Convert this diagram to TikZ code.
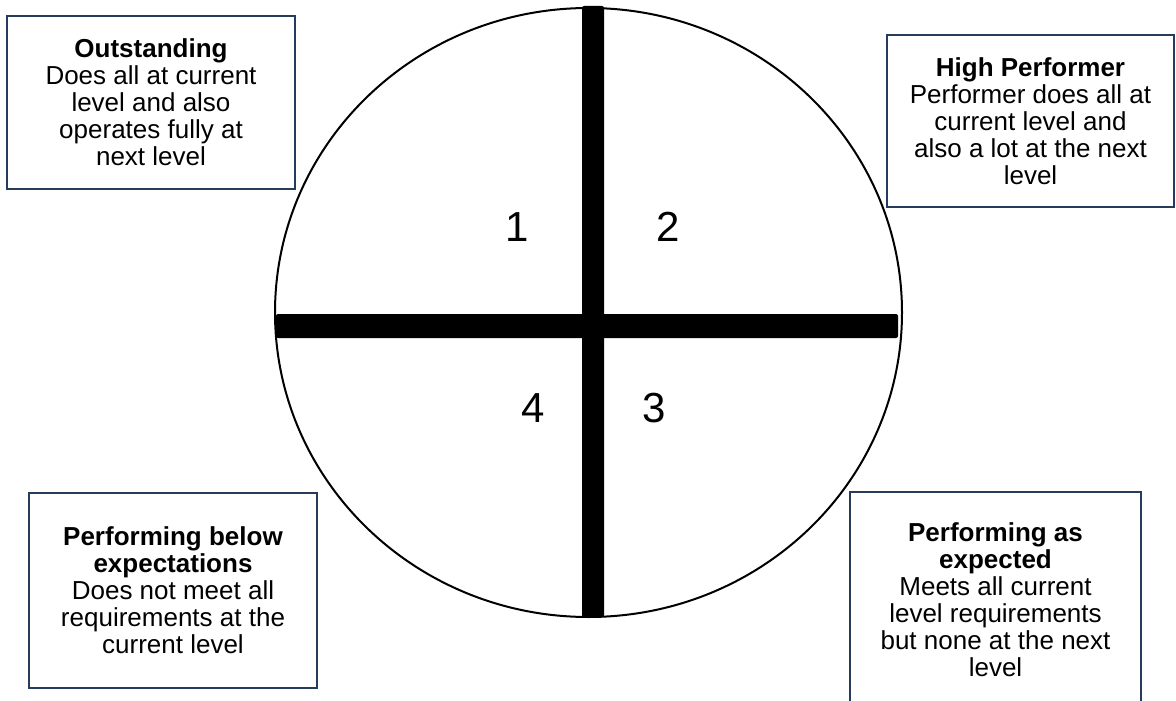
\documentclass[tikz,border=0pt]{standalone}
\usepackage{fontspec}
\setmainfont{Liberation Sans}
\definecolor{boxline}{RGB}{38,60,92}
\tikzset{
  infobox/.style={draw=boxline, line width=2pt, align=center, inner sep=0pt,
    font=\fontsize{26}{27}\selectfont},
  quadnum/.style={font=\fontsize{42}{44}\selectfont, inner sep=0pt}
}
\begin{document}
\begin{tikzpicture}[x=1pt, y=-1pt]
\useasboundingbox (0,0) rectangle (1176,701);
\clip (0,0) rectangle (1176,701);
% circle and cross
\draw[line width=2pt] (588.5,312.5) ellipse [x radius=313.5, y radius=304.5];
\fill[rounded corners=2pt] (582,6) rectangle (604,617);
\fill[rounded corners=2pt] (276,314) rectangle (898,338);
% quadrant numbers
\node[quadnum] (n1) at (517,227) {1};
\node[quadnum] (n2) at (668,227) {2};
\node[quadnum] (n3) at (654,408) {3};
\node[quadnum] (n4) at (533,408) {4};
% boxes
\node[infobox, minimum width=288, minimum height=173] (outstanding) at (151,102.5)
  {\textbf{Outstanding}\\Does all at current\\level and also\\operates fully at\\next level};
\node[infobox, minimum width=287, minimum height=172] (high) at (1030.5,121)
  {\textbf{High Performer}\\Performer does all at\\current level and\\also a lot at the next\\level};
\node[infobox, minimum width=288, minimum height=195] (below) at (173,590.5)
  {\textbf{Performing below}\\\textbf{expectations}\\Does not meet all\\requirements at the\\current level};
\node[infobox, minimum width=291, minimum height=216] (expected) at (995.5,600)
  {\textbf{Performing as}\\\textbf{expected}\\Meets all current\\level requirements\\but none at the next\\level};
\end{tikzpicture}
\end{document}
